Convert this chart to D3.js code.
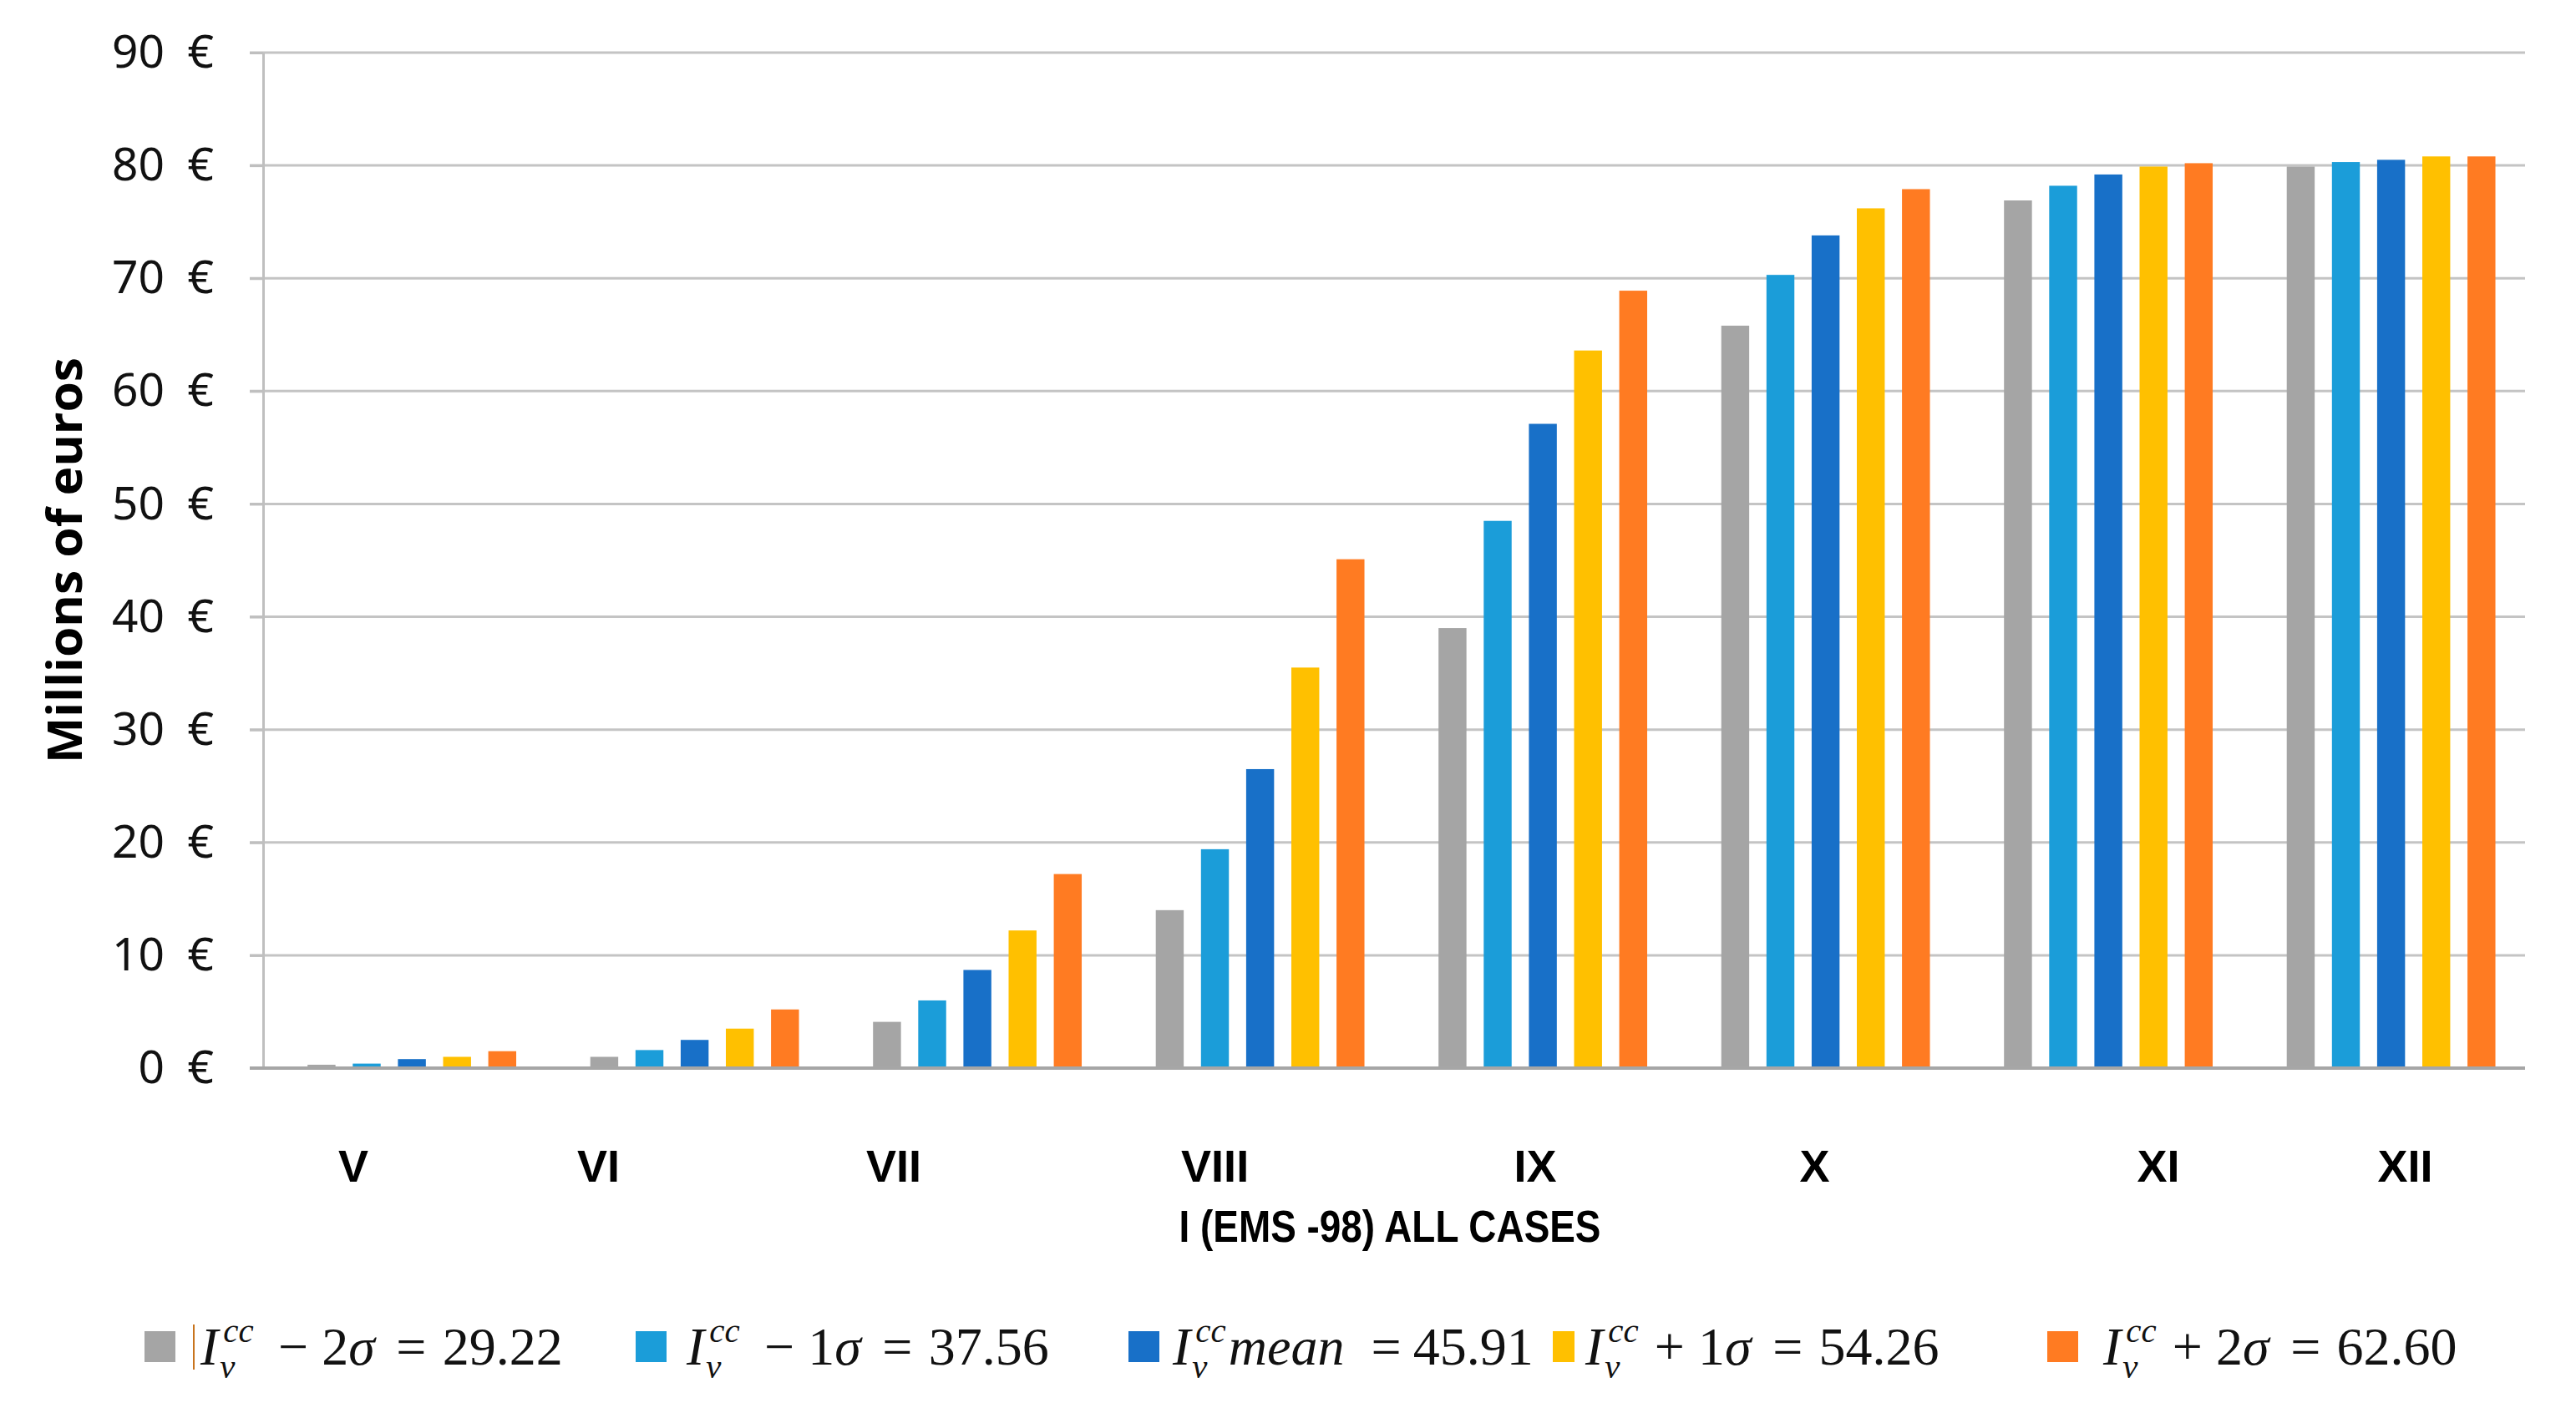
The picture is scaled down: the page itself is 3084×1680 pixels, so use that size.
<!DOCTYPE html>
<html>
<head>
	<title></title>
	<script src="https://d3js.org/d3.v7.min.js"></script>
	<style>
		body { margin: 0; background: #fff; }
		.axis .domain { stroke: #bfbfbf; stroke-width: 3; }
		.axis line { stroke: #bfbfbf; stroke-width: 3; }
		.y.axis text { font-family: "Noto Sans", sans-serif; font-size: 55px; fill: #111; white-space: pre; }
		.cat text { font-family: "Liberation Sans Narrow", "Arial Narrow", sans-serif; font-weight: bold; font-size: 54px; fill: #000; }
		.legend text { font-family: "Liberation Serif", serif; fill: #111; white-space: pre; }
	</style>
</head>
<body>
	<svg width="3084" height="1680"></svg>
<script type="text/javascript">

	// categories (EMS-98 intensity) and the five series
	const categories = ["V", "VI", "VII", "VIII", "IX", "X", "XI", "XII"];
	const keys = ["m2", "m1", "mean", "p1", "p2"];
	const minus2 = [0.3, 1.0, 4.1, 14.0, 39.0, 65.8, 76.9, 79.9];
	const minus1 = [0.4, 1.6, 6.0, 19.4, 48.5, 70.3, 78.2, 80.3];
	const meanV  = [0.8, 2.5, 8.7, 26.5, 57.1, 73.8, 79.2, 80.5];
	const plus1  = [1.0, 3.5, 12.2, 35.5, 63.6, 76.2, 79.9, 80.8];
	const plus2  = [1.5, 5.2, 17.2, 45.1, 68.9, 77.9, 80.2, 80.8];
	const yTicks = [0, 10, 20, 30, 40, 50, 60, 70, 80, 90];

	// legend texts after I_v^cc ; g = gap before token (em)
	const legendLabels = [
		[{t: "−", g: 0.46}, {t: "2", g: 0.25}, {t: "σ", it: true}, {t: "=", g: 0.4}, {t: "29.22", g: 0.3}],
		[{t: "−", g: 0.46}, {t: "1", g: 0.25}, {t: "σ", it: true}, {t: "=", g: 0.4}, {t: "37.56", g: 0.3}],
		[{t: "mean", it: true, g: 0.05}, {t: "=", g: 0.5}, {t: "45.91", g: 0.22}],
		[{t: "+", g: 0.3}, {t: "1", g: 0.25}, {t: "σ", it: true}, {t: "=", g: 0.4}, {t: "54.26", g: 0.3}],
		[{t: "+", g: 0.3}, {t: "2", g: 0.25}, {t: "σ", it: true}, {t: "=", g: 0.4}, {t: "62.60", g: 0.3}]
	];

	// layout
	const colors = ["#a5a5a5", "#1b9dd9", "#1870c8", "#ffc000", "#ff7b22"];
	const catNudge = [-70, -115, -100, -54, -9, -13, 60, 17];
	const legendX = [173, 761, 1351, 1859, 2451];
	const legendW = [37, 37, 37, 26, 37];
	const legendTextX = [240, 822, 1404, 1898, 2518];

	const data = categories.map(function (c, i) {
		return {cat: c, m2: minus2[i], m1: minus1[i], mean: meanV[i], p1: plus1[i], p2: plus2[i]};
	});

	const svg = d3.select("svg");
	const plotLeft = 315, plotRight = 3023, plotTop = 63, plotBottom = 1279;

	const x0 = d3.scaleBand()
		.domain(categories)
		.range([plotLeft, plotRight])
		.paddingInner(0.262)
		.paddingOuter(0.131)
		.align(0.6);
	const x1 = d3.scaleBand()
		.domain(keys)
		.range([0, x0.bandwidth()])
		.paddingInner(0.382)
		.paddingOuter(0);
	const y = d3.scaleLinear()
		.domain([0, 90])
		.range([plotBottom, plotTop]);
	const z = d3.scaleOrdinal().domain(keys).range(colors);

	// gridlines
	svg.append("g")
		.selectAll("line")
		.data(yTicks.slice(1))
		.enter().append("line")
		.attr("x1", plotLeft - 16)
		.attr("x2", plotRight)
		.attr("y1", function (d) { return y(d); })
		.attr("y2", function (d) { return y(d); })
		.attr("stroke", "#c4c4c4")
		.attr("stroke-width", 3);

	const yAxis = svg.append("g")
		.attr("class", "y axis")
		.attr("transform", "translate(" + plotLeft + ",0)")
		.call(d3.axisLeft(y).tickValues(yTicks).tickSizeInner(16).tickSizeOuter(0).tickPadding(43)
			.tickFormat(function (d) { return d + "\u2002€"; }));

	// bars
	svg.append("g")
		.selectAll("g")
		.data(data)
		.enter().append("g")
		.attr("transform", function (d) { return "translate(" + x0(d.cat) + ",0)"; })
		.selectAll("rect")
		.data(function (d) { return keys.map(function (k) { return {key: k, value: d[k]}; }); })
		.enter().append("rect")
		.attr("x", function (d) { return x1(d.key); })
		.attr("y", function (d) { return y(d.value); })
		.attr("width", x1.bandwidth())
		.attr("height", function (d) { return y(0) - y(d.value); })
		.attr("fill", function (d) { return z(d.key); });

	// baseline
	svg.append("line")
		.attr("x1", plotLeft - 16).attr("x2", plotRight)
		.attr("y1", y(0)).attr("y2", y(0))
		.attr("stroke", "#a6a6a6").attr("stroke-width", 4);

	// category labels
	const xAxis = svg.append("g")
		.attr("class", "cat")
		.attr("transform", "translate(0," + plotBottom + ")")
		.call(d3.axisBottom(x0).tickSize(0).tickPadding(0));
	xAxis.select(".domain").remove();
	xAxis.selectAll(".tick text")
		.attr("dy", null)
		.attr("y", 136)
		.attr("x", function (d, i) { return catNudge[i]; });

	svg.append("text")
		.attr("x", 1664)
		.attr("y", 1487)
		.attr("text-anchor", "middle")
		.attr("font-family", "Liberation Sans Narrow, Arial Narrow, sans-serif")
		.attr("font-weight", "bold")
		.attr("font-size", 54)
		.attr("textLength", 505)
		.attr("lengthAdjust", "spacingAndGlyphs")
		.text("I (EMS -98) ALL CASES");

	svg.append("text")
		.attr("transform", "translate(98,671) rotate(-90)")
		.attr("text-anchor", "middle")
		.attr("font-family", "Open Sans, sans-serif")
		.attr("font-weight", "bold")
		.attr("font-size", 58)
		.attr("textLength", 486)
		.attr("lengthAdjust", "spacingAndGlyphs")
		.text("Millions of euros");

	// legend
	const fs = 64;
	const by = 1634;
	const legend = svg.append("g").attr("class", "legend");
	legendLabels.forEach(function (parts, i) {
		legend.append("rect")
			.attr("x", legendX[i]).attr("y", 1594)
			.attr("width", legendW[i]).attr("height", 37)
			.attr("fill", colors[i]);
		let cx = legendTextX[i];
		const base = legend.append("text").attr("x", cx).attr("y", by)
			.attr("font-size", fs).attr("font-style", "italic").text("I");
		cx += base.node().getComputedTextLength() + 2;
		const sub = legend.append("text").attr("x", cx).attr("y", by + 16)
			.attr("font-size", fs * 0.64).attr("font-style", "italic").text("v");
		const sup = legend.append("text").attr("x", cx + 4).attr("y", by - 27)
			.attr("font-size", fs * 0.64).attr("font-style", "italic").text("cc");
		cx += Math.max(sub.node().getComputedTextLength(), sup.node().getComputedTextLength() + 4);
		parts.forEach(function (p) {
			cx += (p.g || 0) * fs;
			const t = legend.append("text").attr("x", cx).attr("y", by)
				.attr("font-size", fs)
				.attr("font-style", p.it ? "italic" : "normal")
				.text(p.t);
			cx += t.node().getComputedTextLength();
		});
	});

	// thin mark next to the first legend swatch
	legend.append("line")
		.attr("x1", 232).attr("x2", 232)
		.attr("y1", 1586).attr("y2", 1640)
		.attr("stroke", "#c8741e").attr("stroke-width", 2);

</script>
</body>
</html>
